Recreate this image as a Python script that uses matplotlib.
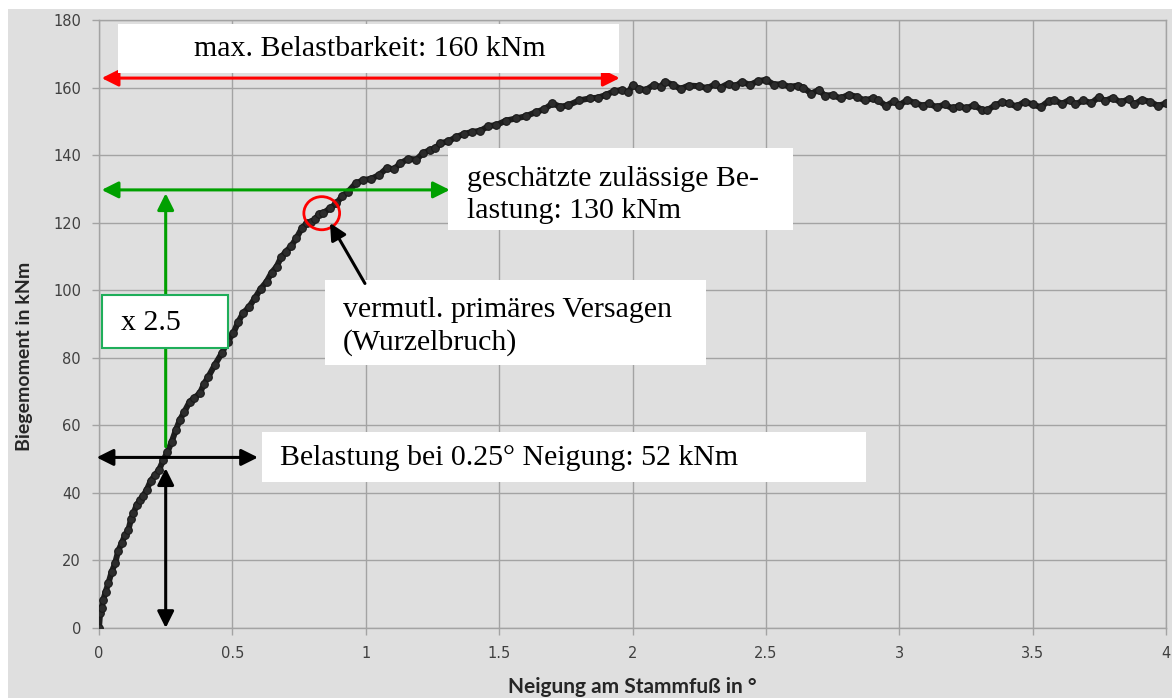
import matplotlib
matplotlib.use("Agg")
import matplotlib.pyplot as plt
from matplotlib.patches import Rectangle, Ellipse

# Messkurve: Neigung am Stammfuss [°] / Biegemoment [kNm]
neigung_anstieg = [0.000, 0.004, 0.010, 0.016, 0.025, 0.035, 0.047, 0.060, 0.072, 0.085,
                   0.097, 0.110, 0.120, 0.129, 0.141, 0.154, 0.166, 0.179, 0.194, 0.210,
                   0.225, 0.241, 0.256, 0.272, 0.288, 0.303, 0.320, 0.340, 0.358, 0.378,
                   0.394, 0.410, 0.435, 0.460, 0.482, 0.503, 0.522, 0.540, 0.562, 0.584,
                   0.606, 0.628, 0.647, 0.666, 0.683, 0.700, 0.720, 0.740, 0.760, 0.778,
                   0.795, 0.810, 0.825, 0.840, 0.865, 0.890, 0.912, 0.934, 0.962, 0.990]
moment_anstieg = [0.0, 4.4, 6.0, 8.3, 10.8, 13.2, 16.5, 19.1, 22.8, 25.1,
                  27.4, 29.0, 32.2, 33.9, 36.4, 37.9, 39.2, 40.9, 43.6, 45.3,
                  46.8, 49.7, 52.0, 55.0, 58.6, 61.6, 64.0, 67.0, 68.2, 69.5,
                  72.3, 74.4, 78.0, 81.3, 84.8, 87.2, 90.6, 93.2, 95.0, 97.6,
                  100.4, 102.5, 105.2, 107.0, 109.8, 111.4, 113.0, 115.4, 118.3, 119.8,
                  120.2, 121.0, 122.6, 122.8, 124.2, 125.7, 127.9, 129.2, 131.6, 132.6]

neigung_mitte = [1.020, 1.050, 1.080, 1.105, 1.130, 1.160, 1.190, 1.215, 1.240, 1.260,
                 1.280, 1.310, 1.340, 1.370, 1.400, 1.430, 1.460, 1.490, 1.525, 1.565,
                 1.600, 1.640, 1.670, 1.700, 1.730, 1.760, 1.800, 1.840, 1.870]
moment_mitte = [133.0, 134.1, 136.2, 135.8, 137.6, 138.9, 138.7, 140.6, 141.5, 142.0,
                143.5, 144.1, 145.4, 146.3, 146.9, 147.2, 148.6, 148.9, 150.2, 150.9,
                151.5, 152.8, 153.6, 155.3, 154.3, 154.8, 156.2, 156.8, 157.0]

neigung_plateau = [1.900, 1.930, 1.960, 1.985, 2.000, 2.025, 2.050, 2.080, 2.105, 2.120,
                   2.150, 2.180, 2.210, 2.250, 2.280, 2.310, 2.330, 2.360, 2.385, 2.410,
                   2.440, 2.470, 2.500, 2.530, 2.560, 2.590, 2.620, 2.640, 2.670, 2.700,
                   2.720, 2.750, 2.780, 2.810, 2.840, 2.870, 2.900, 2.920, 2.950, 2.980,
                   3.000, 3.030, 3.060, 3.090, 3.110, 3.140, 3.170, 3.200, 3.225, 3.250,
                   3.280, 3.310, 3.330, 3.360, 3.385, 3.410, 3.440, 3.470, 3.500, 3.530,
                   3.560, 3.580, 3.610, 3.640, 3.660, 3.690, 3.720, 3.750, 3.770, 3.800,
                   3.830, 3.860, 3.880, 3.910, 3.940, 3.970, 4.000]
moment_plateau = [157.8, 158.9, 159.3, 158.6, 160.7, 159.6, 159.3, 160.8, 160.2, 161.7,
                  160.9, 159.6, 160.6, 160.4, 159.8, 161.0, 160.0, 161.2, 160.4, 161.7,
                  160.8, 161.9, 162.3, 160.9, 161.0, 160.2, 160.6, 160.0, 158.2, 159.4,
                  157.6, 157.8, 156.8, 157.9, 157.3, 156.2, 156.8, 156.3, 154.6, 155.9,
                  154.8, 156.3, 155.4, 154.6, 155.3, 154.2, 155.0, 153.8, 154.6, 153.8,
                  154.8, 153.4, 153.3, 154.8, 155.6, 155.3, 154.4, 155.8, 155.0, 154.2,
                  156.0, 156.3, 155.2, 156.4, 155.0, 156.2, 155.4, 157.3, 156.0, 157.0,
                  155.6, 156.6, 155.0, 156.4, 155.8, 154.6, 155.3]

neigung = neigung_anstieg + neigung_mitte + neigung_plateau
moment = moment_anstieg + moment_mitte + moment_plateau

x_ticks = [0, 0.5, 1, 1.5, 2, 2.5, 3, 3.5, 4]
x_ticklabels = ["0", "0.5", "1", "1.5", "2", "2.5", "3", "3.5", "4"]
y_ticks = [0, 20, 40, 60, 80, 100, 120, 140, 160, 180]

# Kennwerte fuer die Hilfspfeile
m_max = 162.8
m_zul = 129.7
m_025 = 50.5
neigung_025 = 0.25

GRAU_BG = "#dfdfdf"
GRAU_GRID = "#a3a3a3"
SERIF = "Liberation Serif"

fig = plt.figure(figsize=(11.72, 6.98), dpi=100)
fig.patch.set_facecolor("white")
fig.add_artist(Rectangle((8 / 1172, 0), 1, (698 - 9) / 698, transform=fig.transFigure,
                         facecolor=GRAU_BG, edgecolor="none", zorder=-10))

ax = fig.add_axes([99 / 1172, 70 / 698, 1067 / 1172, 608 / 698])
ax.set_facecolor(GRAU_BG)

ax.set_xlim(0, 4)
ax.set_ylim(0, 180)
ax.set_xticks(x_ticks)
ax.set_xticklabels(x_ticklabels)
ax.set_yticks(y_ticks)
ax.grid(True, color=GRAU_GRID, linewidth=1.0)
ax.set_axisbelow(True)
for sp in ax.spines.values():
    sp.set_color(GRAU_GRID)
    sp.set_linewidth(1.0)
ax.tick_params(direction="out", length=5, width=1, color=GRAU_GRID,
               labelsize=10.5, labelcolor="#404040", pad=8)

ax.set_xlabel("Neigung am Stammfuß in °", fontfamily="Lato", fontweight="bold",
              fontsize=15, color="#262626")
ax.set_ylabel("Biegemoment in kNm", fontfamily="Lato", fontweight="bold",
              fontsize=14, color="#262626")
ax.xaxis.set_label_coords(0.5, -0.081)
ax.yaxis.set_label_coords(-0.062, 0.446)

# Messkurve
ax.plot(neigung, moment, "-", color="#1e1e1e", linewidth=4.3, zorder=3,
        solid_joinstyle="round")
ax.plot(neigung, moment, "o", markersize=5.5, markerfacecolor="#2c2c2c",
        markeredgecolor="#1a1a1a", markeredgewidth=0.8, zorder=3)


def pfeil(x0, y0, x1, y1, farbe, stil="<|-|>", z=4):
    ax.annotate("", xy=(x1, y1), xytext=(x0, y0),
                arrowprops=dict(arrowstyle=f"{stil},head_length=0.5,head_width=0.25",
                                color=farbe, lw=2.2, mutation_scale=20,
                                shrinkA=0, shrinkB=0),
                zorder=z)


def kasten(x0, y0, x1, y1, rand="none", lw=0):
    ax.add_patch(Rectangle((x0, y0), x1 - x0, y1 - y0, facecolor="white",
                           edgecolor=rand, linewidth=lw, zorder=5))


# maximale Belastbarkeit
pfeil(0.01, m_max, 1.952, m_max, "#ff0000")
kasten(0.071, 164.3, 1.948, 178.8)
ax.text(1.015, 171.3, "max. Belastbarkeit: 160 kNm", fontfamily=SERIF, fontsize=21.5,
        ha="center", va="center", zorder=6)

# zulaessige Belastung
pfeil(0.01, m_zul, 1.315, m_zul, "#00a000")
pfeil(neigung_025, 53.7, neigung_025, 128.7, "#00a000", stil="-|>", z=4)
kasten(1.309, 117.8, 2.601, 142.0)
ax.text(1.378, 128.3, "geschätzte zulässige Be-\nlastung: 130 kNm", fontfamily=SERIF,
        fontsize=21.5, ha="left", va="center", linespacing=1.3, zorder=6)

# Faktor
kasten(0.010, 82.8, 0.484, 98.6, rand="#1fae5a", lw=1.5)
ax.text(0.081, 90.4, "x 2.5", fontfamily=SERIF, fontsize=21.5,
        ha="left", va="center", zorder=6)

# Belastung bei 0.25°
pfeil(-0.009, m_025, 0.596, m_025, "black", z=6)
pfeil(neigung_025, 47.3, neigung_025, 0.0, "black", z=6)
kasten(0.610, 43.3, 2.874, 57.9)
ax.text(0.678, 50.2, "Belastung bei 0.25° Neigung: 52 kNm", fontfamily=SERIF,
        fontsize=21.5, ha="left", va="center", zorder=6)

# primaeres Versagen
ax.add_patch(Ellipse((0.835, 122.8), 0.134, 9.8, facecolor="none",
                     edgecolor="#ff0000", linewidth=2.0, zorder=6))
pfeil(0.997, 102.0, 0.866, 119.9, "black", stil="-|>", z=6)
kasten(0.847, 77.9, 2.277, 103.0)
ax.text(0.915, 89.2, "vermutl. primäres Versagen\n(Wurzelbruch)", fontfamily=SERIF,
        fontsize=21.5, ha="left", va="center", linespacing=1.3, zorder=6)

fig.savefig("out.png", dpi=100)
